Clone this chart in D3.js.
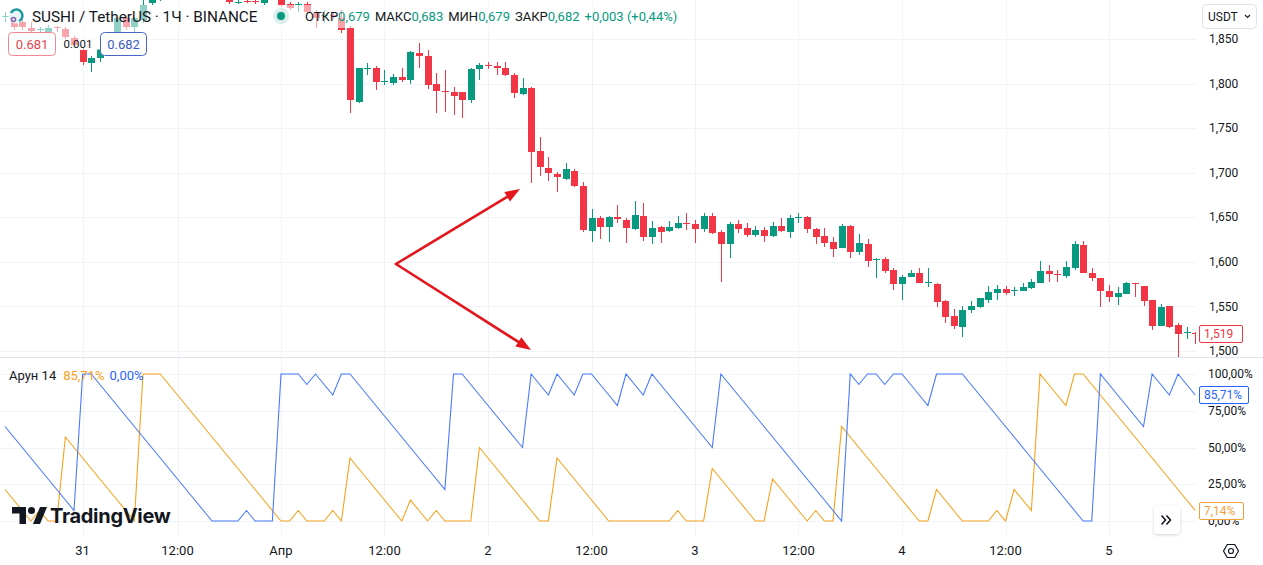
<!DOCTYPE html>
<html><head><meta charset="utf-8">
<script src="https://cdn.jsdelivr.net/npm/d3@7"></script>
<style>
html,body{margin:0;padding:0;background:#fff;overflow:hidden}
svg{display:block;font-family:Roboto,"Noto Sans",sans-serif}
</style></head><body>
<svg id="chart" width="1263" height="565"></svg>
<script>
// ---------- DATA (1H candles, SUSHI/USDT) ----------
const openP = [1.875,1.869,1.869,1.862,1.860,1.858,1.863,1.861,1.851,1.838,1.823,1.829,1.839,1.852,1.873,1.863,1.871,1.890,1.902,1.925,
1.915,1.920,1.912,1.908,1.904,1.901,1.897,1.891,1.893,1.893,1.890,1.897,1.896,1.889,1.888,1.889,1.879,1.876,1.877,1.873,
1.862,1.779,1.817,1.817,1.802,1.801,1.807,1.804,1.834,1.831,1.799,1.792,1.791,1.790,1.782,1.816,1.821,1.820,1.817,1.810,
1.788,1.795,1.724,1.705,1.699,1.693,1.702,1.685,1.635,1.649,1.639,1.650,1.647,1.637,1.652,1.628,1.639,1.635,1.638,1.644,
1.642,1.637,1.651,1.633,1.620,1.642,1.638,1.630,1.636,1.629,1.640,1.634,1.649,1.650,1.637,1.629,1.622,1.616,1.640,1.611,
1.620,1.602,1.603,1.591,1.575,1.583,1.587,1.576,1.575,1.556,1.539,1.527,1.546,1.549,1.557,1.565,1.570,1.567,1.567,1.571,
1.576,1.590,1.586,1.584,1.593,1.619,1.588,1.582,1.567,1.561,1.564,1.576,1.573,1.557,1.528,1.550,1.529,1.520,1.520];
const highP = [1.880,1.877,1.875,1.869,1.864,1.866,1.865,1.863,1.853,1.841,1.831,1.842,1.855,1.877,1.876,1.875,1.894,1.908,1.935,1.930,
1.926,1.924,1.916,1.912,1.908,1.905,1.900,1.896,1.897,1.897,1.898,1.903,1.900,1.891,1.892,1.892,1.882,1.882,1.880,1.882,
1.865,1.818,1.823,1.820,1.815,1.811,1.817,1.836,1.845,1.838,1.812,1.815,1.796,1.791,1.817,1.823,1.824,1.824,1.824,1.812,
1.806,1.796,1.740,1.718,1.701,1.711,1.704,1.690,1.659,1.651,1.652,1.664,1.649,1.668,1.666,1.646,1.640,1.646,1.651,1.655,
1.647,1.655,1.655,1.636,1.645,1.647,1.644,1.640,1.639,1.645,1.649,1.653,1.655,1.651,1.638,1.638,1.628,1.642,1.641,1.631,
1.626,1.604,1.605,1.593,1.585,1.591,1.593,1.593,1.576,1.557,1.547,1.550,1.556,1.560,1.573,1.574,1.573,1.572,1.576,1.581,
1.601,1.597,1.591,1.601,1.623,1.623,1.593,1.582,1.574,1.572,1.577,1.576,1.573,1.557,1.553,1.550,1.531,1.527,1.521];
const lowP = [1.869,1.860,1.860,1.857,1.857,1.855,1.858,1.850,1.841,1.821,1.813,1.824,1.836,1.849,1.860,1.855,1.868,1.888,1.893,1.910,
1.908,1.905,1.902,1.899,1.897,1.896,1.889,1.889,1.890,1.889,1.888,1.895,1.886,1.883,1.880,1.878,1.862,1.869,1.872,1.857,
1.767,1.778,1.810,1.793,1.798,1.798,1.802,1.800,1.818,1.794,1.767,1.768,1.765,1.761,1.778,1.804,1.816,1.810,1.809,1.784,
1.787,1.688,1.696,1.691,1.678,1.692,1.684,1.633,1.622,1.626,1.622,1.644,1.621,1.636,1.623,1.620,1.621,1.633,1.637,1.636,
1.621,1.633,1.631,1.577,1.604,1.632,1.628,1.628,1.622,1.628,1.633,1.627,1.644,1.632,1.620,1.617,1.605,1.615,1.604,1.608,
1.594,1.582,1.588,1.568,1.557,1.583,1.576,1.572,1.549,1.531,1.525,1.516,1.543,1.548,1.554,1.557,1.563,1.562,1.567,1.570,
1.576,1.577,1.577,1.582,1.591,1.587,1.579,1.549,1.555,1.552,1.564,1.561,1.550,1.524,1.528,1.526,1.493,1.514,1.508];
const closeP = [1.876,1.863,1.863,1.859,1.861,1.862,1.862,1.852,1.843,1.824,1.829,1.839,1.852,1.873,1.863,1.873,1.888,1.903,1.925,1.915,
1.920,1.912,1.908,1.904,1.901,1.898,1.891,1.892,1.892,1.892,1.894,1.899,1.888,1.885,1.889,1.880,1.874,1.877,1.876,1.860,
1.782,1.817,1.818,1.802,1.803,1.807,1.804,1.835,1.831,1.798,1.792,1.791,1.786,1.782,1.816,1.821,1.820,1.817,1.810,1.789,
1.795,1.723,1.706,1.700,1.695,1.704,1.685,1.636,1.649,1.639,1.650,1.648,1.638,1.653,1.628,1.638,1.633,1.639,1.644,1.643,
1.637,1.651,1.632,1.620,1.642,1.637,1.630,1.636,1.629,1.640,1.635,1.649,1.650,1.637,1.628,1.621,1.614,1.640,1.611,1.621,
1.601,1.603,1.590,1.575,1.583,1.587,1.576,1.577,1.555,1.538,1.528,1.546,1.550,1.559,1.566,1.570,1.565,1.568,1.572,1.577,
1.590,1.586,1.585,1.594,1.620,1.587,1.582,1.567,1.561,1.565,1.576,1.575,1.556,1.528,1.549,1.527,1.519,1.521,1.519];

// Aroon 14 (percent)
const aroonUp = [21.43,14.29,7.14,0,7.14,0,0,57.14,50,42.86,35.71,28.57,21.43,14.29,7.14,0,100,100,100,92.86,
85.71,78.57,71.43,64.29,57.14,50,42.86,35.71,28.57,21.43,14.29,7.14,0,0,7.14,0,0,0,7.14,0,
42.86,35.71,28.57,21.43,14.29,7.14,0,14.29,7.14,0,7.14,0,0,0,0,50,42.86,35.71,28.57,21.43,
14.29,7.14,0,0,42.86,35.71,28.57,21.43,14.29,7.14,0,0,0,0,0,0,0,0,7.14,0,
0,0,35.71,28.57,21.43,14.29,7.14,0,0,28.57,21.43,14.29,7.14,0,7.14,0,0,64.29,57.14,50,
42.86,35.71,28.57,21.43,14.29,7.14,0,0,21.43,14.29,7.14,0,0,0,0,7.14,0,21.43,14.29,7.14,
100,92.86,85.71,78.57,100,100,92.86,85.71,78.57,71.43,64.29,57.14,50,42.86,35.71,28.57,21.43,14.29,7.14];
const aroonDown = [64.29,57.14,50,42.86,35.71,28.57,21.43,14.29,7.14,100,100,92.86,85.71,78.57,71.43,64.29,57.14,50,42.86,35.71,
28.57,21.43,14.29,7.14,0,0,0,0,7.14,0,0,0,100,100,100,92.86,100,92.86,85.71,100,
100,92.86,85.71,78.57,71.43,64.29,57.14,50,42.86,35.71,28.57,21.43,100,100,92.86,85.71,78.57,71.43,64.29,57.14,
50,100,92.86,85.71,100,92.86,85.71,100,100,92.86,85.71,78.57,100,92.86,85.71,100,92.86,85.71,78.57,71.43,
64.29,57.14,50,100,92.86,85.71,78.57,71.43,64.29,57.14,50,42.86,35.71,28.57,21.43,14.29,7.14,0,100,92.86,
100,100,92.86,100,100,92.86,85.71,78.57,100,100,100,100,92.86,85.71,78.57,71.43,64.29,57.14,50,42.86,
35.71,28.57,21.43,14.29,7.14,0,0,100,92.86,85.71,78.57,71.43,64.29,100,92.86,85.71,100,92.86,85.71];

const priceTicks = [1.50,1.55,1.60,1.65,1.70,1.75,1.80,1.85];
const pctTicks = [0,25,50,75,100];
const timeTickIdx = [9,20,32,44,56,68,80,92,104,116,128];
const timeTickLabels = ["31","12:00","Апр","12:00","2","12:00","3","12:00","4","12:00","5"];
const lastPrice = 1.519;
const lastUp = 7.14, lastDown = 85.71;
// annotation arrows (bar index, price)
const arrowStart = [45.33, 1.5976];
const arrowEnds = [[59.71, 1.6817], [60.99, 1.5011]];

// ---------- LAYOUT ----------
const W = 1263, H = 565;
const paneR = 1196, sepY = 357.5, aroonBottom = 536;
const GREEN = "#089981", RED = "#f23645", ORANGE = "#f7a21b", BLUE = "#2962ff";
const TXT = "#131722", GRID = "#f0f3fa";
const fmtP = v => d3.format(".3f")(v).replace(".", ",");
const fmtPct = v => d3.format(".2f")(v).replace(".", ",") + "%";

const svg = d3.select("#chart");
const defs = svg.append("defs");
defs.append("clipPath").attr("id","clipMain").append("rect").attr("x",0).attr("y",0).attr("width",paneR).attr("height",sepY);
defs.append("clipPath").attr("id","clipAr").append("rect").attr("x",0).attr("y",sepY+1).attr("width",paneR).attr("height",aroonBottom-sepY-1);
const shadow = defs.append("filter").attr("id","sh").attr("x","-30%").attr("y","-30%").attr("width","160%").attr("height","160%");
shadow.append("feDropShadow").attr("dx",0).attr("dy",1).attr("stdDeviation",1.5).attr("flood-color","#000").attr("flood-opacity",0.18);

const xs = d3.scaleLinear().domain([0, 138]).range([5, 5 + 138*8.625]);
const yp = d3.scaleLinear().domain([1.5, 1.85]).range([351, 39]);
const ya = d3.scaleLinear().domain([0, 100]).range([521, 374]);

// ---------- GRID ----------
const grid = svg.append("g").attr("shape-rendering","crispEdges");
grid.selectAll(".hg").data(priceTicks).join("line")
  .attr("x1",0).attr("x2",paneR).attr("y1",d=>Math.round(yp(d))+0.5).attr("y2",d=>Math.round(yp(d))+0.5)
  .attr("stroke",GRID);
grid.selectAll(".ag").data(pctTicks).join("line")
  .attr("x1",0).attr("x2",paneR).attr("y1",d=>Math.round(ya(d))+0.5).attr("y2",d=>Math.round(ya(d))+0.5)
  .attr("stroke",GRID);
grid.selectAll(".vg").data(timeTickIdx).join("line")
  .attr("x1",d=>Math.round(xs(d))+0.5).attr("x2",d=>Math.round(xs(d))+0.5)
  .attr("y1",0).attr("y2",aroonBottom).attr("stroke",GRID);

// ---------- CANDLES ----------
const candles = d3.range(openP.length).map(i => ({i, o:openP[i], h:highP[i], l:lowP[i], c:closeP[i]}));
const cg = svg.append("g").attr("clip-path","url(#clipMain)").attr("shape-rendering","crispEdges");
const cs = cg.selectAll("g").data(candles).join("g")
  .attr("fill", d => d.c >= d.o ? GREEN : RED);
cs.append("rect")
  .attr("x", d => Math.round(xs(d.i)))
  .attr("width", 1)
  .attr("y", d => Math.round(yp(d.h)))
  .attr("height", d => Math.max(1, Math.round(yp(d.l)) - Math.round(yp(d.h))));
cs.append("rect")
  .attr("x", d => Math.round(xs(d.i)) - 3)
  .attr("width", 7)
  .attr("y", d => Math.round(yp(Math.max(d.o, d.c))))
  .attr("height", d => Math.max(1, Math.round(yp(Math.min(d.o, d.c))) - Math.round(yp(Math.max(d.o, d.c)))));

// ---------- ARROWS ----------
const arrG = svg.append("g");
arrowEnds.forEach(e => {
  const x0 = xs(arrowStart[0]), y0 = yp(arrowStart[1]);
  const x1 = xs(e[0]), y1 = yp(e[1]);
  const ang = Math.atan2(y1 - y0, x1 - x0);
  const L = 15, Wd = 5.5;
  const bx = x1 - L*Math.cos(ang), by = y1 - L*Math.sin(ang);
  arrG.append("line").attr("x1",x0).attr("y1",y0).attr("x2",bx).attr("y2",by)
    .attr("stroke","#e3161d").attr("stroke-width",2.6).attr("stroke-linecap","round");
  arrG.append("path")
    .attr("d", `M${x1},${y1} L${bx - Wd*Math.sin(ang)},${by + Wd*Math.cos(ang)} L${bx + Wd*Math.sin(ang)},${by - Wd*Math.cos(ang)} Z`)
    .attr("fill","#e3161d");
});

// ---------- AROON ----------
const ag = svg.append("g").attr("clip-path","url(#clipAr)");
const line = d3.line().x((d,i)=>xs(i)).y(d=>ya(d));
ag.append("path").attr("d", line(aroonUp)).attr("fill","none").attr("stroke",ORANGE).attr("stroke-width",1.1);
ag.append("path").attr("d", line(aroonDown)).attr("fill","none").attr("stroke",BLUE).attr("stroke-width",1.1).attr("stroke-opacity",0.85);

// pane separator
svg.append("line").attr("x1",0).attr("x2",W).attr("y1",sepY).attr("y2",sepY)
  .attr("stroke","#e0e3eb").attr("shape-rendering","crispEdges");

// ---------- PRICE AXIS ----------
const axisG = svg.append("g").attr("font-size",12).attr("fill",TXT);
axisG.selectAll(".pt").data(priceTicks).join("text")
  .attr("x",1209).attr("y",d=>yp(d)).attr("dy","0.35em").text(fmtP);
axisG.selectAll(".at").data(pctTicks).join("text")
  .attr("x",1208).attr("y",d=>ya(d)).attr("dy","0.35em").text(fmtPct);

function tagBox(yv, label, col, w){
  const g = svg.append("g");
  g.append("rect").attr("x",1199.5).attr("y",Math.round(yv)-8.5).attr("width",w).attr("height",17)
    .attr("fill","#fff").attr("stroke",col).attr("rx",1.5);
  g.append("text").attr("x",1204).attr("y",yv).attr("dy","0.36em").attr("font-size",12)
    .attr("fill",col).text(label);
}
tagBox(yp(lastPrice), fmtP(lastPrice), RED, 43);
tagBox(ya(lastDown), fmtPct(lastDown), BLUE, 49);
tagBox(ya(lastUp), fmtPct(lastUp), "#f2a03a", 44);

// ---------- TIME AXIS ----------
svg.append("g").attr("font-size",13).attr("fill",TXT).attr("text-anchor","middle")
  .selectAll("text").data(timeTickIdx).join("text")
  .attr("x",d=>xs(d)).attr("y",555).text((d,k)=>timeTickLabels[k]);

// ---------- LEGEND ----------
// faded backgrounds behind legend
svg.append("rect").attr("x",0).attr("y",5).attr("width",680).attr("height",23).attr("fill","#fff").attr("opacity",0.55);
svg.append("rect").attr("x",0).attr("y",28).attr("width",150).attr("height",22).attr("fill","#fff").attr("opacity",0.55);

// symbol icon
const ic = svg.append("g").attr("transform","translate(16,16)");
ic.append("circle").attr("r",7.5).attr("fill","#eaf6f6");
ic.append("path").attr("d","M-5,-3 A6,6 0 1 1 3,5").attr("fill","none").attr("stroke","#1c9aa0").attr("stroke-width",2.4);
ic.append("circle").attr("cx",-2.5).attr("cy",3.5).attr("r",2.8).attr("fill","#7b5ea7");
ic.append("circle").attr("cx",-2.5).attr("cy",3.5).attr("r",1.2).attr("fill","#fff");

svg.append("text").attr("x",32).attr("y",22).attr("font-size",15.3).attr("fill",TXT)
  .text("SUSHI / TetherUS · 1Ч · BINANCE");
svg.append("circle").attr("cx",281).attr("cy",16).attr("r",8).attr("fill",GREEN).attr("opacity",0.15);
svg.append("circle").attr("cx",281).attr("cy",16).attr("r",4).attr("fill",GREEN);

const ohlc = [["ОТКР","0,679"],["МАКС","0,683"],["МИН","0,679"],["ЗАКР","0,682"]];
const ot = svg.append("text").attr("x",305).attr("y",21).attr("font-size",13);
ohlc.forEach((p,k)=>{
  ot.append("tspan").attr("fill",TXT).attr("dx", k? 5:0).text(p[0]);
  ot.append("tspan").attr("fill",GREEN).text(p[1]);
});
ot.append("tspan").attr("fill",GREEN).attr("dx",5).text("+0,003 (+0,44%)");

// bid/ask boxes
svg.append("rect").attr("x",8.5).attr("y",32.5).attr("width",47).attr("height",23).attr("rx",4)
  .attr("fill","#fff").attr("stroke","#f0868f");
svg.append("text").attr("x",32).attr("y",44).attr("dy","0.36em").attr("text-anchor","middle")
  .attr("font-size",13).attr("fill","#e0464f").text("0.681");
svg.append("text").attr("x",78).attr("y",44).attr("dy","0.36em").attr("text-anchor","middle")
  .attr("font-size",11.5).attr("fill",TXT).text("0.001");
svg.append("rect").attr("x",100.5).attr("y",32.5).attr("width",46).attr("height",23).attr("rx",4)
  .attr("fill","#fff").attr("stroke","#4768c8");
svg.append("text").attr("x",123.5).attr("y",44).attr("dy","0.36em").attr("text-anchor","middle")
  .attr("font-size",13).attr("fill","#3a5bbf").text("0.682");

// Aroon legend
const al = svg.append("text").attr("x",9).attr("y",375).attr("dy","0.35em").attr("font-size",13);
al.append("tspan").attr("fill",TXT).text("Арун 14");
al.append("tspan").attr("fill",ORANGE).attr("dx",7).text("85,71%");
al.append("tspan").attr("fill",BLUE).attr("dx",5).text("0,00%");

// USDT button
svg.append("rect").attr("x",1202.5).attr("y",4.5).attr("width",54).attr("height",24).attr("rx",4)
  .attr("fill","#fff").attr("stroke","#e0e3eb");
svg.append("text").attr("x",1208).attr("y",21).attr("font-size",12).attr("fill",TXT).text("USDT");
svg.append("path").attr("d","M1245,15 l2.5,2.5 l2.5,-2.5").attr("fill","none").attr("stroke",TXT).attr("stroke-width",1.1);

// TradingView logo
const lg = svg.append("g").attr("fill",TXT);
lg.append("path").attr("d","M12,507 H26 V524 H19.5 V513.5 H12 Z");
lg.append("circle").attr("cx",31.5).attr("cy",510.5).attr("r",3.5);
lg.append("path").attr("d","M33,524 L40,507 H47 L40,524 Z");
lg.append("text").attr("x",50).attr("y",523).attr("font-family","Inter, Roboto, sans-serif")
  .attr("font-weight",700).attr("font-size",20).attr("letter-spacing",-0.3).text("TradingView");

// scroll button
svg.append("rect").attr("x",1154).attr("y",506).attr("width",26).attr("height",28).attr("rx",4)
  .attr("fill","#fff").attr("filter","url(#sh)");
svg.append("path").attr("d","M1161.5,515.5 l4,4.5 l-4,4.5 M1166.5,515.5 l4,4.5 l-4,4.5")
  .attr("fill","none").attr("stroke",TXT).attr("stroke-width",1.6);

// settings icon
const hex = d3.range(6).map(k => { const a = Math.PI/3*k; return [1231 + 7.5*Math.cos(a), 551 + 7.5*Math.sin(a)]; });
svg.append("path").attr("d","M"+hex.map(p=>p.join(",")).join("L")+"Z").attr("fill","none").attr("stroke",TXT).attr("stroke-width",1.2);
svg.append("circle").attr("cx",1231).attr("cy",551).attr("r",2.5).attr("fill","none").attr("stroke",TXT).attr("stroke-width",1.2);
</script>
</body></html>
